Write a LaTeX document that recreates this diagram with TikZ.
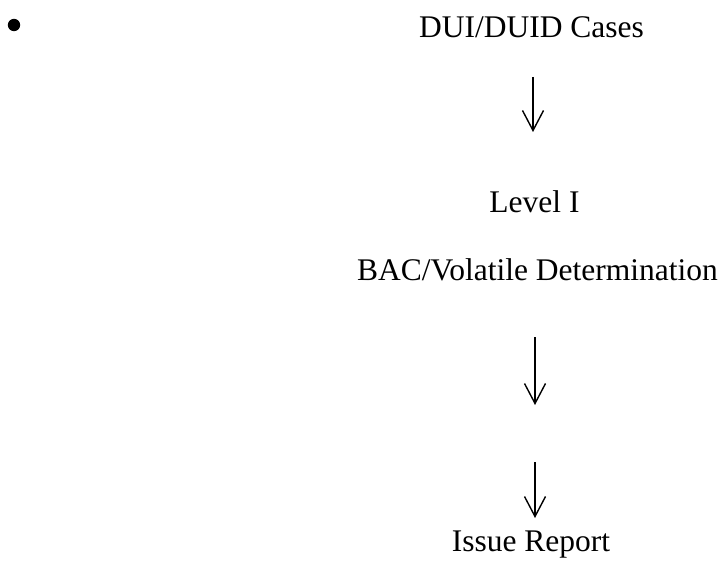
\documentclass[tikz,border=0pt]{standalone}
\usepackage{fontspec}
\setmainfont{Liberation Serif}
\usetikzlibrary{arrows.meta}
\tikzset{
  lbl/.style={anchor=base, inner sep=0pt, font=\fontsize{31.5bp}{36bp}\selectfont},
  flow/.style={line width=1.4bp, -{Straight Barb[length=20bp, width=21bp, line width=1.4bp]}},
}
\begin{document}
\begin{tikzpicture}[x=1bp, y=-1bp]
\useasboundingbox (0,0) rectangle (721,563);
\fill (14,25) circle[radius=6.2] coordinate (bullet);
\node[lbl] (dui) at (531.5,38) {DUI/DUID Cases};
\node[lbl] (lvl) at (534.5,213) {Level I};
\node[lbl] (bac) at (537.5,280) {BAC/Volatile Determination};
\node[lbl] (iss) at (531,551) {Issue Report};
\coordinate (a1s) at (533,77);
\coordinate (a1e) at (533,132);
\coordinate (a2s) at (535,337);
\coordinate (a2e) at (535,405);
\coordinate (a3s) at (535,462);
\coordinate (a3e) at (535,518);
\draw[flow] (a1s) -- (a1e);
\draw[flow] (a2s) -- (a2e);
\draw[flow] (a3s) -- (a3e);
\end{tikzpicture}
\end{document}
